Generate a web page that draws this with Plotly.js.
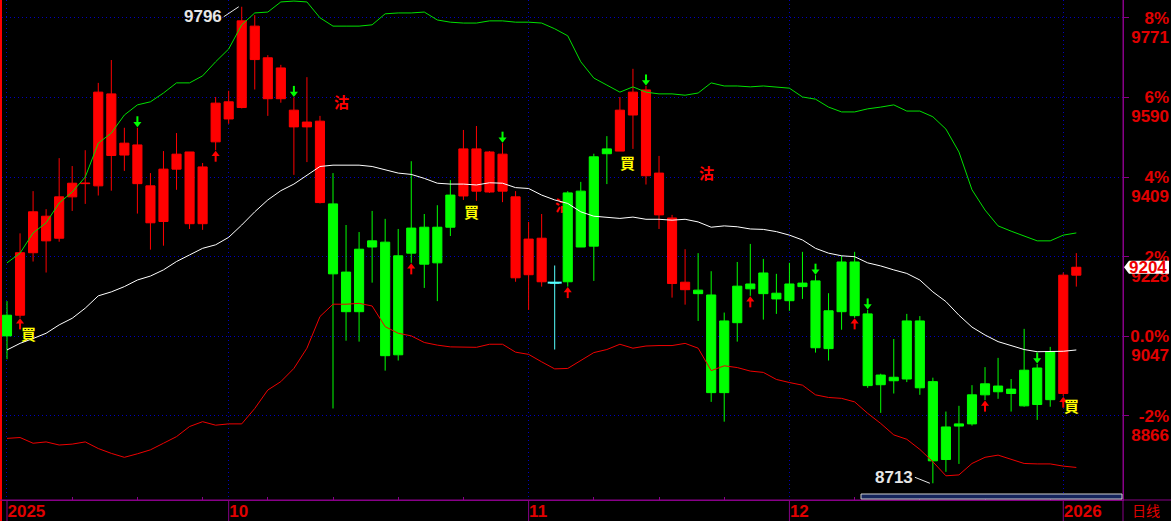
<!DOCTYPE html>
<html>
<head>
<meta charset="utf-8">
<script src="https://cdn.plot.ly/plotly-3.0.1.min.js"></script>
<style>
html,body{margin:0;padding:0;background:#000;overflow:hidden;}
#chart{width:1171px;height:521px;}
</style>
</head>
<body>
<div id="chart"></div>
<script>
// ---------- DATA ----------
const openPx  = [9048,9095,9237,9320,9270,9364,9394,9389,9598,9459,9482,9389,9308,9427,9466,9303,9489,9580,9567,9752,9680,9587,9561,9523,9536,9348,9193,9103,9250,9261,9005,9236,9295,9214,9295,9366,9473,9375,9461,9364,9187,9270,9168,9171,9377,9252,9462,9468,9550,9607,9418,9316,9170,9152,9141,8919,9078,9155,9144,9145,9128,9168,9173,9019,9103,9216,9098,8937,8954,8950,9082,8944,8767,8843,8848,8914,8934,8917,8889,8975,8903,8917,9186];
const highPx  = [9127,9281,9377,9336,9452,9434,9470,9623,9675,9521,9521,9418,9468,9509,9466,9441,9591,9605,9796,9777,9686,9664,9590,9636,9548,9418,9300,9284,9332,9314,9291,9445,9325,9345,9402,9516,9525,9468,9486,9377,9307,9325,9208,9377,9398,9462,9502,9591,9655,9616,9457,9323,9245,9236,9195,9101,9216,9257,9223,9189,9214,9239,9186,9145,9230,9239,9107,8962,9041,9098,9093,8953,8876,8889,8936,8977,8998,8950,9064,8984,9023,9192,9236];
const lowPx   = [8995,9089,9217,9192,9262,9332,9348,9367,9378,9423,9326,9244,9253,9380,9291,9289,9470,9530,9565,9608,9548,9578,9414,9443,9349,8883,9037,9035,9169,8969,8992,9214,9157,9127,9275,9357,9355,9373,9352,9171,9107,9160,9017,9160,9250,9173,9393,9468,9473,9392,9291,9135,9119,9082,8898,8853,9035,9139,9085,9098,9105,9132,9010,8992,9062,9089,8930,8873,8917,8943,8914,8713,8739,8757,8844,8902,8905,8876,8887,8857,8887,8911,9160];
const closePx = [9095,9237,9330,9264,9364,9395,9395,9602,9458,9486,9394,9305,9427,9461,9303,9432,9577,9541,9764,9676,9587,9657,9523,9534,9351,9189,9103,9245,9264,9003,9230,9293,9211,9295,9368,9473,9377,9466,9377,9180,9268,9171,9169,9373,9250,9455,9473,9561,9602,9412,9323,9167,9153,9144,8919,9082,9161,9166,9191,9132,9166,9160,9021,9105,9216,9094,8935,8959,8946,9082,8930,8764,8841,8848,8914,8939,8921,8927,8970,8892,9012,9186,9204];

// signal state of each candle (R = buy state, G = sell state, C = neutral doji), as runs
const regimeRuns = [['G',1],['R',24],['G',10],['R',7],['C',1],['G',4],['R',6],['G',28],['R',2]];

// Bollinger bands (upper / middle / lower)
const upperBand = [9214,9236,9282,9305,9350,9375,9409,9486,9509,9550,9573,9580,9600,9623,9623,9639,9671,9700,9755,9782,9784,9807,9809,9807,9771,9752,9752,9752,9755,9780,9782,9782,9784,9766,9761,9759,9759,9764,9764,9761,9761,9759,9746,9730,9671,9634,9618,9602,9614,9602,9598,9598,9595,9600,9623,9616,9616,9614,9616,9614,9611,9591,9586,9568,9557,9557,9564,9568,9573,9559,9559,9546,9518,9466,9380,9334,9298,9286,9275,9264,9264,9277,9282];
const midBand   = [9016,9031,9042,9054,9073,9088,9111,9139,9148,9160,9175,9184,9198,9217,9232,9247,9255,9272,9300,9330,9357,9378,9393,9414,9433,9436,9436,9436,9433,9425,9418,9415,9406,9395,9393,9393,9391,9396,9395,9385,9383,9368,9357,9349,9330,9320,9318,9315,9318,9313,9313,9311,9313,9307,9295,9298,9296,9291,9290,9285,9277,9266,9247,9236,9230,9228,9214,9207,9198,9190,9175,9148,9126,9095,9068,9050,9035,9026,9017,9012,9012,9013,9016];
const lowerBand = [8815,8817,8804,8807,8800,8802,8807,8792,8781,8772,8780,8789,8804,8819,8842,8853,8845,8848,8848,8883,8925,8944,8974,9020,9092,9120,9120,9122,9116,9069,9054,9048,9033,9027,9023,9023,9022,9029,9029,9011,9006,8989,8973,8974,8993,9010,9017,9029,9020,9025,9026,9026,9031,9020,8969,8980,8976,8968,8965,8949,8942,8936,8914,8908,8906,8898,8872,8849,8823,8813,8790,8762,8730,8732,8758,8772,8777,8767,8758,8757,8757,8752,8749];

// signal markers
const buyArrowIdx  = [1,16,31,43,57,65,75,81];
const sellArrowIdx = [10,22,38,49,62,66,79];
const buyLabelIdx    = [1,35,47,81];
const buyLabelPrice  = [9053,9331,9442,8890];
const sellLabelIdx   = [25,53];
const sellLabelPrice = [9581,9419];
const hiddenSellIdx = 42, hiddenSellPrice = 9341;

// axis labels
const monthTickIdx  = [0,17,40,60,81];
const monthTickText = ['2025','10','11','12','2026'];
const minorTickIdx  = [5,10,15,20,25,30,35,45,50,55,65,70,75,80];
const basePrice = 9047;
const pctLevels = [8,6,4,2,0,-2];
const pctTickText   = ['8%','6%','4%','2%','0.0%','-2%'];
const priceTickText = ['9771','9590','9409','9228','9047','8866'];
const periodLabel = '日线';

// ---------- STYLE ----------
const RED = '#ff0000', GREEN = '#00ff00', CYAN = '#55ffff';
const AXRED = '#e00000', PURPLE = '#880088', GRID = '#0000c0';
const Y0 = 8675, Y1 = 9811.4;          // price range of the plot area
const X0 = -0.383, X1 = 85.58;
const PLOT_H = 500, PAPER_W = 1169;
const u = (Y1 - Y0) / PLOT_H;           // price units per pixel
const px2paper = px => (px - 2) / PAPER_W;

const N = closePx.length;
const regime = [];
regimeRuns.forEach(([c, n]) => { for (let k = 0; k < n; k++) regime.push(c); });
const idx = closePx.map((_, i) => i);
const dojiIdx = idx.filter(i => regime[i] === 'C');

function candleTrace(code, color) {
  const xs = [], o = [], h = [], l = [], c = [];
  for (let i = 0; i < N; i++) if (regime[i] === code) {
    xs.push(i); o.push(openPx[i]); h.push(highPx[i]); l.push(lowPx[i]); c.push(closePx[i]);
  }
  return {type:'candlestick', x:xs, open:o, high:h, low:l, close:c,
    increasing:{line:{color:color, width:1}, fillcolor:color},
    decreasing:{line:{color:color, width:1}, fillcolor:color},
    whiskerwidth:0, hoverinfo:'skip', showlegend:false};
}

const traces = [
  candleTrace('R', RED),
  candleTrace('G', GREEN),
  candleTrace('C', CYAN),
  // body of the neutral doji candle
  {type:'scatter', mode:'markers', x:dojiIdx, y:dojiIdx.map(i => closePx[i]),
    marker:{symbol:'line-ew', size:10, line:{width:2, color:CYAN}}, hoverinfo:'skip'},
  {type:'scatter', mode:'lines', x:idx, y:upperBand, line:{color:'#00e000', width:1}, hoverinfo:'skip'},
  {type:'scatter', mode:'lines', x:idx, y:midBand, line:{color:'#ffffff', width:1}, hoverinfo:'skip'},
  {type:'scatter', mode:'lines', x:idx, y:lowerBand, line:{color:'#ee0000', width:1}, hoverinfo:'skip'},
  // buy arrows (red, below candle)
  {type:'scatter', mode:'markers', x:buyArrowIdx, y:buyArrowIdx.map(i => lowPx[i] - 4*u),
    marker:{symbol:'triangle-up', size:7, color:RED, line:{width:0}}, hoverinfo:'skip'},
  {type:'scatter', mode:'markers', x:buyArrowIdx, y:buyArrowIdx.map(i => lowPx[i] - 8*u),
    marker:{symbol:'line-ns', size:5, line:{width:2, color:RED}}, hoverinfo:'skip'},
  // sell arrows (green, above candle)
  {type:'scatter', mode:'markers', x:sellArrowIdx, y:sellArrowIdx.map(i => highPx[i] + 4*u),
    marker:{symbol:'triangle-down', size:7, color:GREEN, line:{width:0}}, hoverinfo:'skip'},
  {type:'scatter', mode:'markers', x:sellArrowIdx, y:sellArrowIdx.map(i => highPx[i] + 8*u),
    marker:{symbol:'line-ns', size:5, line:{width:2, color:GREEN}}, hoverinfo:'skip'},
  // carriers for the label axes
  {type:'scatter', mode:'markers', x:[0], y:[basePrice], yaxis:'y2', marker:{opacity:0}, hoverinfo:'skip'},
  {type:'scatter', mode:'markers', x:[0], y:[basePrice], yaxis:'y3', marker:{opacity:0}, hoverinfo:'skip'}
];

const pctVals = pctLevels.map(p => basePrice * (1 + p / 100));
const tickFont = {family:'Liberation Sans, Arial, sans-serif', size:17, color:AXRED, weight:'bold'};

const annotations = [];
buyLabelIdx.forEach((i, k) => annotations.push({x:i, y:buyLabelPrice[k], xref:'x', yref:'y', text:'買',
  showarrow:false, xshift:8, xanchor:'center', yanchor:'middle',
  font:{family:'Noto Sans CJK TC', size:15, color:'#ffff00', weight:'bold'}}));
sellLabelIdx.forEach((i, k) => annotations.push({x:i, y:sellLabelPrice[k], xref:'x', yref:'y', text:'沽',
  showarrow:false, xshift:8, xanchor:'center', yanchor:'middle',
  font:{family:'Noto Sans CJK TC', size:15, color:RED, weight:'bold'}}));

const maxHigh = Math.max(...highPx), maxI = highPx.indexOf(maxHigh);
const minLow = Math.min(...lowPx), minI = lowPx.indexOf(minLow);
annotations.push({x:maxI, y:maxHigh, xref:'x', yref:'y', text:String(maxHigh), showarrow:true, arrowhead:0,
  arrowwidth:1, arrowcolor:'#e8e8e8', ax:-15, ay:10, xanchor:'right', yanchor:'middle', standoff:0, xshift:-3,
  font:{family:'Liberation Sans, Arial', size:17, color:'#e6e6e6', weight:'bold'}});
annotations.push({x:minI, y:minLow, xref:'x', yref:'y', text:String(minLow), showarrow:true, arrowhead:0,
  arrowwidth:1, arrowcolor:'#e8e8e8', ax:-15, ay:-6, xanchor:'right', yanchor:'middle', standoff:0, xshift:-3,
  font:{family:'Liberation Sans, Arial', size:17, color:'#e6e6e6', weight:'bold'}});
annotations.push({x:px2paper(1146), y:-10.5/PLOT_H, xref:'paper', yref:'paper', text:periodLabel, showarrow:false,
  xanchor:'center', yanchor:'middle', font:{family:'Noto Sans CJK SC', size:14, color:AXRED}});
const lastClose = closePx[N - 1];
annotations.push({x:px2paper(1148), y:lastClose, xref:'paper', yref:'y', text:String(lastClose), showarrow:false,
  xanchor:'center', yanchor:'middle',
  font:{family:'Liberation Sans, Arial', size:17, color:'#ee0000', weight:'bold'}});

const shapes = [
  {type:'line', xref:'paper', yref:'paper', x0:px2paper(1), x1:px2paper(1), y0:-21/PLOT_H, y1:1, line:{color:RED, width:2}},
  {type:'line', xref:'paper', yref:'paper', x0:-0.01, x1:1.01, y0:0, y1:0, line:{color:PURPLE, width:1}},
  {type:'line', xref:'paper', yref:'paper', x0:px2paper(1123), x1:px2paper(1123), y0:-21/PLOT_H, y1:1, line:{color:PURPLE, width:1}},
  {type:'rect', xref:'paper', yref:'paper', x0:px2paper(861), x1:px2paper(1122), y0:1/PLOT_H, y1:6/PLOT_H,
    fillcolor:'#14245c', line:{color:'#d0d0d0', width:1}},
  {type:'path', xref:'paper', yref:'y',
    path:`M ${px2paper(1124)},${lastClose} L ${px2paper(1129)},${lastClose + 6.5*u} L ${px2paper(1169)},${lastClose + 6.5*u} L ${px2paper(1169)},${lastClose - 6.5*u} L ${px2paper(1129)},${lastClose - 6.5*u} Z`,
    fillcolor:'#ffffff', line:{width:0}},
  {type:'rect', xref:'x', yref:'y', x0:hiddenSellIdx + 0.6, x1:hiddenSellIdx + 0.6, y0:hiddenSellPrice, y1:hiddenSellPrice,
    layer:'between', line:{width:0},
    label:{text:'沽', textposition:'middle center', font:{family:'Noto Sans CJK TC', size:15, color:RED, weight:'bold'}}}
];
monthTickIdx.forEach(i => shapes.push({type:'line', xref:'x', yref:'paper', x0:i, x1:i, y0:-21/PLOT_H, y1:0,
  line:{color:PURPLE, width:1}}));

const layout = {
  width:1171, height:521,
  margin:{l:2, r:0, t:0, b:21, pad:0},
  paper_bgcolor:'#000', plot_bgcolor:'#000',
  showlegend:false, boxgap:0.3, boxgroupgap:0,
  xaxis:{domain:[0, px2paper(1123)], range:[X0, X1], type:'linear', fixedrange:true,
    tickvals:monthTickIdx, ticktext:monthTickText, ticks:'', ticklabelposition:'outside right',
    ticklabelstandoff:-4,
    tickfont:tickFont, showgrid:true, gridcolor:GRID, griddash:'1px,3px', gridwidth:1,
    showline:true, linecolor:PURPLE, linewidth:1, zeroline:false, rangeslider:{visible:false},
    minor:{tickvals:minorTickIdx, ticks:'inside', ticklen:3, tickcolor:PURPLE, showgrid:false}},
  yaxis:{side:'right', anchor:'x', range:[Y0, Y1], fixedrange:true, tickvals:pctVals,
    ticks:'outside', ticklen:5, tickcolor:PURPLE, showticklabels:false,
    showgrid:true, gridcolor:GRID, griddash:'1px,3px', gridwidth:1,
    showline:true, linecolor:PURPLE, linewidth:1, zeroline:false},
  yaxis2:{overlaying:'y', anchor:'free', position:1, side:'left', range:[Y0, Y1], fixedrange:true,
    tickvals:pctVals, ticktext:pctTickText, ticks:'', showgrid:false, showline:false, zeroline:false,
    tickfont:tickFont, ticklabelstandoff:2},
  yaxis3:{overlaying:'y', anchor:'free', position:1, side:'left', range:[Y0, Y1], fixedrange:true,
    tickvals:pctVals, ticktext:priceTickText, ticks:'', showgrid:false, showline:false, zeroline:false,
    tickfont:tickFont, ticklabelshift:19, ticklabelstandoff:2},
  annotations:annotations,
  shapes:shapes
};

Plotly.newPlot('chart', traces, layout, {staticPlot:true, displayModeBar:false});
</script>
</body>
</html>
